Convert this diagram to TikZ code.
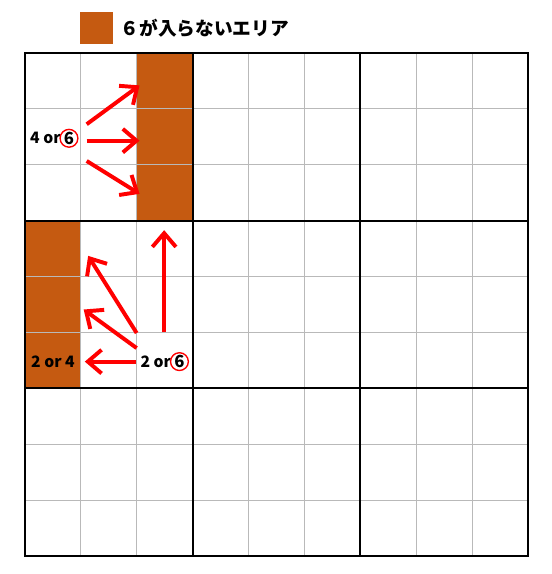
\documentclass[tikz,border=0pt]{standalone}
\usepackage{fontspec}
\setmainfont{Noto Sans CJK JP}
\usetikzlibrary{positioning,arrows.meta}
\definecolor{noSix}{HTML}{C55A11}
\tikzset{
  redarrow/.style={draw=red, line width=2pt, -{Straight Barb[length=7pt,width=12pt,line width=2pt]}},
  cand/.style={font=\fontsize{8}{10}\selectfont\bfseries, inner sep=0pt},
  ringed/.style={circle, draw=red, line width=0.7pt, inner sep=0.3pt, minimum size=8.8pt, font=\fontsize{8.5}{10}\selectfont\bfseries}
}
\begin{document}
\begin{tikzpicture}
        \useasboundingbox (-0.447,-0.322) rectangle (9.428,9.948);
        % legend
        \fill[noSix] (0.984,9.161) rectangle (1.574,9.733);
        \node[anchor=west, font=\fontsize{9.5}{11}\selectfont\bfseries] (legend) at (1.59,9.447) {６が入らないエリア};
        
        % cells where 6 cannot go
        \fill[noSix] (2,6) rectangle (3,9);
        \fill[noSix] (0,3) rectangle (1,6);
        
        % grid
        \draw[gray!55, line width=0.6pt] (0,0) grid (9,9);
        \draw[line width=1pt] (0,0) grid[step=3] (9,9);
        \draw[line width=1.4pt] (0,0) rectangle (9,9);
        
        % candidates
        \node[cand, anchor=east] (topOr) at (0.644,7.474) {4 or};
        \node[ringed, right=-0.8pt of topOr] (topSix) {6};
        \node[cand] (leftPair) at (0.50,3.478) {2 or 4};
        \node[cand, anchor=east] (midOr) at (2.62,3.478) {2 or};
        \node[ringed, right=-0.8pt of midOr] (midSix) {6};
        
        \coordinate (tA) at (1.104,7.725);
        \coordinate (tB) at (1.104,7.431);
        \coordinate (tC) at (1.104,7.068);
        \coordinate (hA) at (2.05,8.42);
        \coordinate (hB) at (2.05,7.431);
        \coordinate (hC) at (2.05,6.48);
        
        \draw[redarrow] (tA) -- (hA);
        \draw[redarrow] (tB) -- (hB);
        \draw[redarrow] (tC) -- (hC);
        
        \coordinate (sUp) at (2.49,4.0);
        \coordinate (sA) at (1.998,3.99);
        \coordinate (sB) at (1.998,3.72);
        \coordinate (sC) at (1.98,3.478);
        \coordinate (eUp) at (2.49,5.83);
        \coordinate (eA) at (1.13,5.37);
        \coordinate (eB) at (1.05,4.41);
        \coordinate (eC) at (1.07,3.478);
        
        \draw[redarrow] (sUp) -- (eUp);
        \draw[redarrow] (sA) -- (eA);
        \draw[redarrow] (sB) -- (eB);
        \draw[redarrow] (sC) -- (eC);
      \end{tikzpicture}
\end{document}
